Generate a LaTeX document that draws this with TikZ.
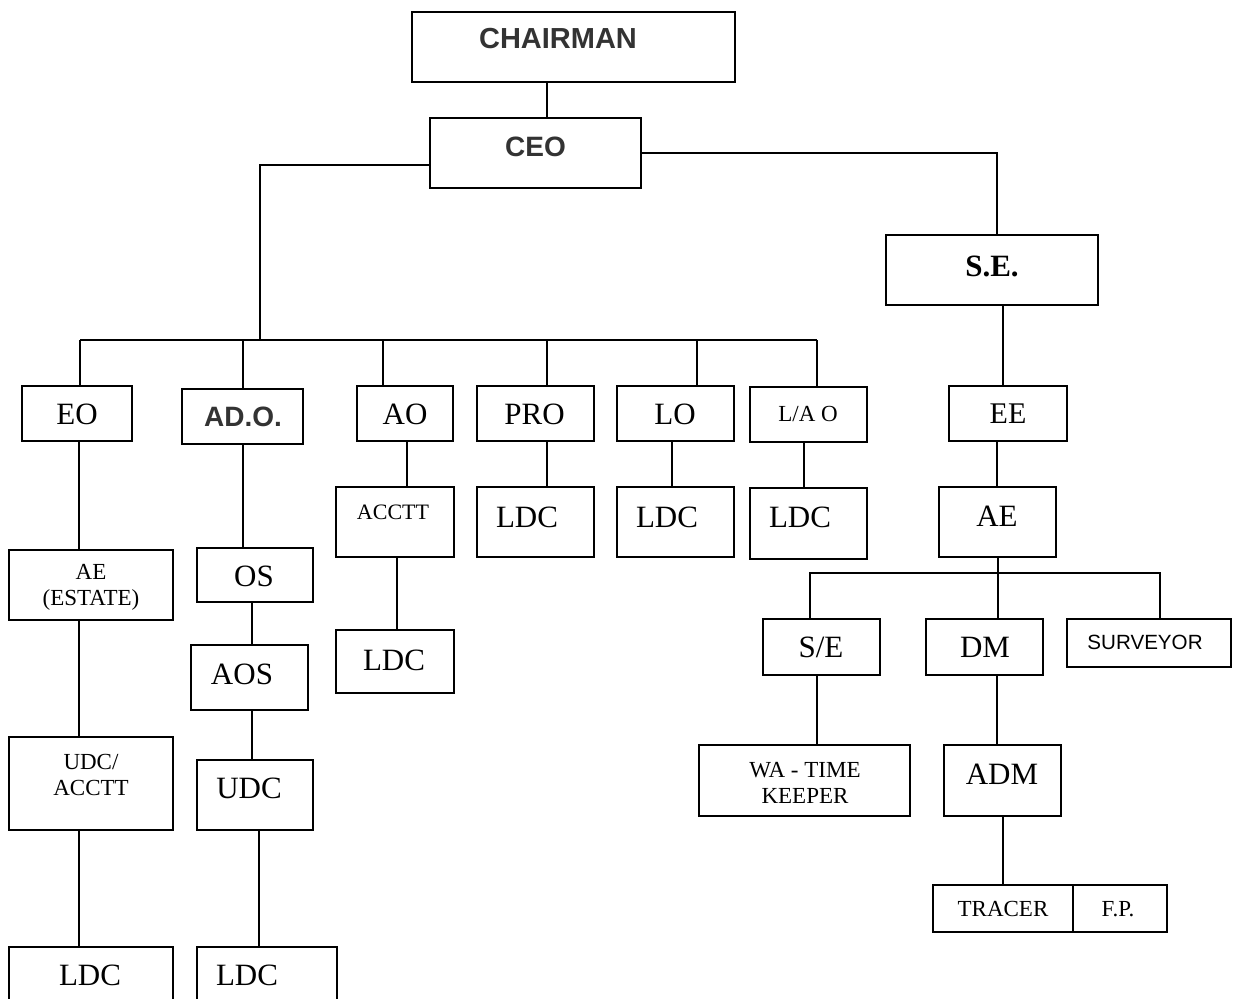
\documentclass[tikz,border=0pt]{standalone}
\usepackage{fontspec}
\setmainfont{Liberation Serif}
\newfontfamily\arialf{Liberation Sans}

\tikzset{
    box/.style={draw, line width=1pt, inner sep=0pt, outer sep=0pt},
    lbl/.style={inner sep=0pt, align=center, font=\fontsize{15.5}{18}\selectfont},
    head/.style={text=black!80, font=\arialf\bfseries\fontsize{14}{16}\selectfont},
    small/.style={font=\fontsize{11.5}{13}\selectfont},
    wire/.style={line width=1pt}
}

% box from (x1,y1) to (x2,y2), text centred at (tx,ty)
\newcommand\orgbox[9][]{%
    \node[box, minimum width={(#5-#3)*0.5pt}, minimum height={(#6-#4)*0.5pt}]
        (#2) at ({(#3+#5)/2},{(#4+#6)/2}) {};
    \node[lbl, #1] (#2-t) at (#7,#8) {#9};
}
\newcommand\link[3]{\draw[wire] ([xshift=#3]#1.south) -- ([xshift=#3]#1.south |- #2.north);}

\begin{document}
\begin{tikzpicture}[x=0.5pt, y=-0.5pt]
    \useasboundingbox (0,0) rectangle (1236,999);

    % top
    \orgbox[head, font=\arialf\bfseries\fontsize{14.5}{16}\selectfont]{chairman}{412}{12}{735}{82}{558}{39}{CHAIRMAN}
    \orgbox[head]{ceo}{430}{118}{641}{188}{535.5}{147}{CEO}
    \orgbox[font=\bfseries\fontsize{15.5}{18}\selectfont]{se}{886}{235}{1098}{305}{992}{266}{S.E.}

    % first row
    \orgbox{eo}{22}{386}{132}{441}{77}{414}{EO}
    \orgbox[head]{ado}{182}{389}{303}{444}{243}{417}{AD.O.}
    \orgbox{ao}{357}{386}{453}{441}{405}{414.5}{AO}
    \orgbox{pro}{477}{386}{594}{441}{534.5}{414}{PRO}
    \orgbox{lo}{617}{386}{734}{441}{675}{414}{LO}
    \orgbox[small]{lao}{750}{387}{867}{442}{808}{414}{L/A O}
    \orgbox[font=\fontsize{15}{18}\selectfont]{ee}{949}{386}{1067}{441}{1008}{414}{EE}

    % EO column
    \orgbox[small]{aees}{9}{550}{173}{620}{91}{587}{AE\\(ESTATE)}
    \orgbox[small]{udcac}{9}{737}{173}{830}{91}{775}{UDC/\\ACCTT}
    \orgbox{ldce}{9}{947}{173}{1010}{90}{975}{LDC}

    % AD.O. column
    \orgbox{os}{197}{548}{313}{602}{254}{576}{OS}
    \orgbox{aos}{191}{645}{308}{710}{242}{674}{AOS}
    \orgbox{udc}{197}{760}{313}{830}{249}{788}{UDC}
    \orgbox{ldcd}{197}{947}{337}{1010}{247}{975}{LDC}

    % AO column
    \orgbox[font=\fontsize{11}{13}\selectfont]{acctt}{336}{487}{454}{557}{393}{512}{ACCTT}
    \orgbox{ldca}{336}{630}{454}{693}{394}{660}{LDC}

    % PRO, LO, L/A O
    \orgbox{ldcp}{477}{487}{594}{557}{527}{517}{LDC}
    \orgbox{ldcl}{617}{487}{734}{557}{667}{517}{LDC}
    \orgbox{ldcla}{750}{488}{867}{559}{800}{517}{LDC}

    % engineering side
    \orgbox{ae}{939}{487}{1056}{557}{997}{516}{AE}
    \orgbox{sub}{763}{619}{880}{675}{821}{647}{S/E}
    \orgbox{dm}{926}{619}{1043}{675}{985}{647}{DM}
    \orgbox[font=\arialf\fontsize{10.3}{12}\selectfont]{surv}{1067}{619}{1231}{667}{1145}{642}{SURVEYOR}
    \orgbox[small]{wa}{699}{745}{910}{816}{805}{783}{WA - TIME\\KEEPER}
    \orgbox{adm}{944}{745}{1061}{816}{1002}{774}{ADM}
    \orgbox[small]{tracer}{933}{885}{1073}{932}{1003}{909}{TRACER}
    \orgbox[small]{fp}{1073}{885}{1167}{932}{1118}{909}{F.P.}

    \coordinate (bus) at (260,340);
    \coordinate (bus2) at (997,573);

    % connectors
    \draw[wire] ([xshift=-13.25pt]chairman.south) -- ([xshift=-13.25pt]chairman.south |- ceo.north);
    \draw[wire] ([yshift=-6pt]ceo.west) -| (bus);
    \draw[wire] (ceo.east) -| ([xshift=2.5pt]se.north);
    \draw[wire] ([xshift=1.5pt]eo.north |- bus) -- ([xshift=4.25pt]lao.north |- bus);
    \foreach \n/\dx in {eo/1.5pt, ado/0pt, ao/-11pt, pro/5.75pt, lo/10.75pt, lao/4.25pt}
        \draw[wire] ([xshift=\dx]\n.north) -- ([xshift=\dx]\n.north |- bus);

    \link{eo}{aees}{1pt}
    \link{aees}{udcac}{-6pt}
    \link{udcac}{ldce}{-6pt}
    \link{ado}{os}{0pt}
    \link{os}{aos}{-1.5pt}
    \link{aos}{udc}{1.25pt}
    \link{udc}{ldcd}{2pt}
    \link{ao}{acctt}{1pt}
    \link{acctt}{ldca}{1pt}
    \link{pro}{ldcp}{5.75pt}
    \link{lo}{ldcl}{-1.75pt}
    \link{lao}{ldcla}{-2.25pt}
    \link{se}{ee}{5.5pt}
    \link{ee}{ae}{-5.5pt}
    \link{ae}{dm}{0pt}
    \draw[wire] ([xshift=-5.75pt]sub.north) |- (bus2) -| ([xshift=5.5pt]surv.north);
    \link{sub}{wa}{-2.25pt}
    \link{dm}{adm}{6.25pt}
    \link{adm}{tracer}{0pt}
\end{tikzpicture}
\end{document}
